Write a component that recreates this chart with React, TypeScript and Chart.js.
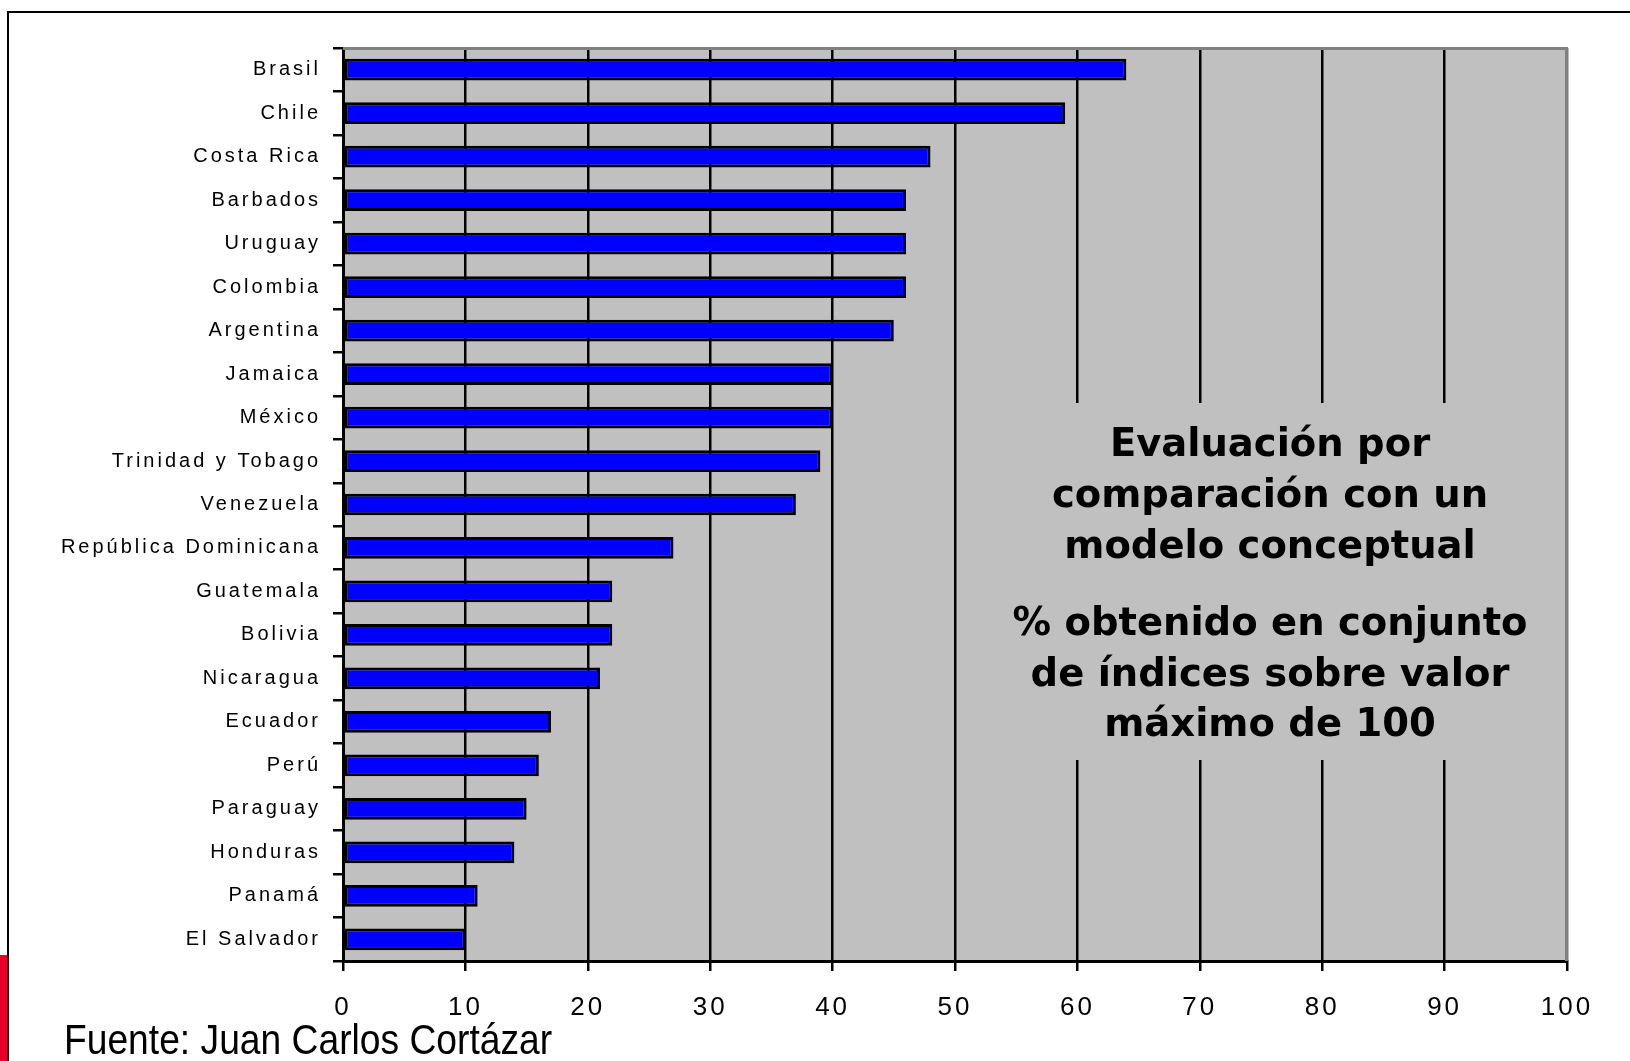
import React, { useEffect, useRef } from "react";
import { Chart, registerables } from "chart.js";

Chart.register(...registerables);

const categories = [
  "Brasil",
  "Chile",
  "Costa Rica",
  "Barbados",
  "Uruguay",
  "Colombia",
  "Argentina",
  "Jamaica",
  "México",
  "Trinidad y Tobago",
  "Venezuela",
  "República Dominicana",
  "Guatemala",
  "Bolivia",
  "Nicaragua",
  "Ecuador",
  "Perú",
  "Paraguay",
  "Honduras",
  "Panamá",
  "El Salvador",
];

const values = [64, 59, 48, 46, 46, 46, 45, 40, 40, 39, 37, 27, 22, 22, 21, 17, 16, 15, 14, 11, 10];

const xMin = 0;
const xMax = 100;
const xStep = 10;

const boxLinesTop = ["Evaluación por", "comparación con un", "modelo conceptual"];
const boxLinesBottom = ["% obtenido en conjunto", "de índices sobre valor", "máximo de 100"];

const sourceText = "Fuente: Juan Carlos Cortázar";

const PLOT_BG = "#C0C0C0";

const plotPlugin = {
  id: "plotDecor",
  beforeDraw(chart: any) {
    const { ctx, chartArea } = chart;
    ctx.save();
    ctx.fillStyle = PLOT_BG;
    ctx.fillRect(chartArea.left, chartArea.top, chartArea.right - chartArea.left, chartArea.bottom - chartArea.top);
    ctx.restore();
    ctx.letterSpacing = "3px";
  },
  afterDatasetsDraw(chart: any) {
    const { ctx, chartArea } = chart;
    ctx.save();
    ctx.strokeStyle = "#808080";
    ctx.lineWidth = 3;
    ctx.beginPath();
    ctx.moveTo(chartArea.left, chartArea.top + 0.5);
    ctx.lineTo(chartArea.right - 0.5, chartArea.top + 0.5);
    ctx.lineTo(chartArea.right - 0.5, chartArea.bottom);
    ctx.stroke();
    ctx.restore();
  },
  afterDraw(chart: any) {
    const { ctx } = chart;
    ctx.letterSpacing = "0px";
    ctx.save();
    ctx.fillStyle = PLOT_BG;
    ctx.fillRect(990, 403, 560, 357);
    ctx.fillStyle = "#000";
    ctx.font = 'bold 38.5px "DejaVu Sans"';
    ctx.textAlign = "center";
    ctx.textBaseline = "middle";
    const cx = 1270;
    const ys1 = [446, 497, 548];
    const ys2 = [625, 676, 726];
    boxLinesTop.forEach((t, i) => ctx.fillText(t, cx, ys1[i]));
    boxLinesBottom.forEach((t, i) => ctx.fillText(t, cx, ys2[i]));
    ctx.restore();
  },
};

export default function App() {
  const canvasRef = useRef<HTMLCanvasElement | null>(null);

  useEffect(() => {
    document.body.style.margin = "0";
    const canvas = canvasRef.current;
    if (!canvas) return;
    const chart = new Chart(canvas, {
      type: "bar",
      data: {
        labels: categories,
        datasets: [
          {
            data: values,
            backgroundColor: "#0000FF",
            borderColor: "#000000",
            borderWidth: 3,
            borderSkipped: false,
            barPercentage: 0.5,
            categoryPercentage: 1,
          },
        ],
      },
      options: {
        indexAxis: "y",
        responsive: false,
        animation: false,
        devicePixelRatio: 1,
        layout: { padding: { top: 48, right: 63, left: 0, bottom: 0 } },
        plugins: {
          legend: { display: false },
          tooltip: { enabled: false },
        },
        scales: {
          x: {
            type: "linear",
            position: "bottom",
            min: xMin,
            max: xMax,
            ticks: {
              stepSize: xStep,
              color: "#000",
              font: { family: '"Liberation Sans", Arial', size: 26 },
              padding: 21,
              maxRotation: 0,
            },
            grid: {
              color: (c: any) => (c.tick && c.tick.value === xMax ? "#808080" : "#000"),
              tickColor: "#000",
              lineWidth: 2.5,
              tickLength: 10,
              drawTicks: true,
            },
            border: { color: "#000", width: 3 },
            afterFit: (scale: any) => {
              scale.height = 100;
            },
          },
          y: {
            type: "category",
            ticks: {
              color: "#000",
              font: { family: '"Liberation Sans", Arial', size: 20 },
              padding: 12,
              autoSkip: false,
            },
            grid: {
              drawOnChartArea: false,
              drawTicks: true,
              tickLength: 10,
              color: "#000",
              lineWidth: 2.5,
              offset: true,
            },
            border: { color: "#000", width: 3 },
            afterFit: (scale: any) => {
              scale.width = 343;
            },
          },
        },
      },
      plugins: [plotPlugin],
    });
    return () => chart.destroy();
  }, []);

  return (
    <div style={{ position: "absolute", left: 0, top: 0, width: 1630, height: 1061, overflow: "hidden", background: "#fff" }}>
      <canvas ref={canvasRef} width={1630} height={1061} style={{ display: "block", position: "absolute", left: 0, top: 0 }} />
      <div style={{ position: "absolute", left: 7, top: 11, width: 1623, height: 2, background: "#000" }} />
      <div style={{ position: "absolute", left: 7, top: 11, width: 2, height: 1050, background: "#000" }} />
      <div style={{ position: "absolute", left: 0, top: 955, width: 7, height: 106, background: "#E4002B" }} />
      <div
        style={{
          position: "absolute",
          left: 64,
          top: 1019,
          fontFamily: '"Liberation Sans", Arial, sans-serif',
          fontSize: 42,
          lineHeight: "42px",
          color: "#000",
          whiteSpace: "nowrap",
          transform: "scaleX(0.886)",
          transformOrigin: "left top",
        }}
      >
        {sourceText}
      </div>
    </div>
  );
}
